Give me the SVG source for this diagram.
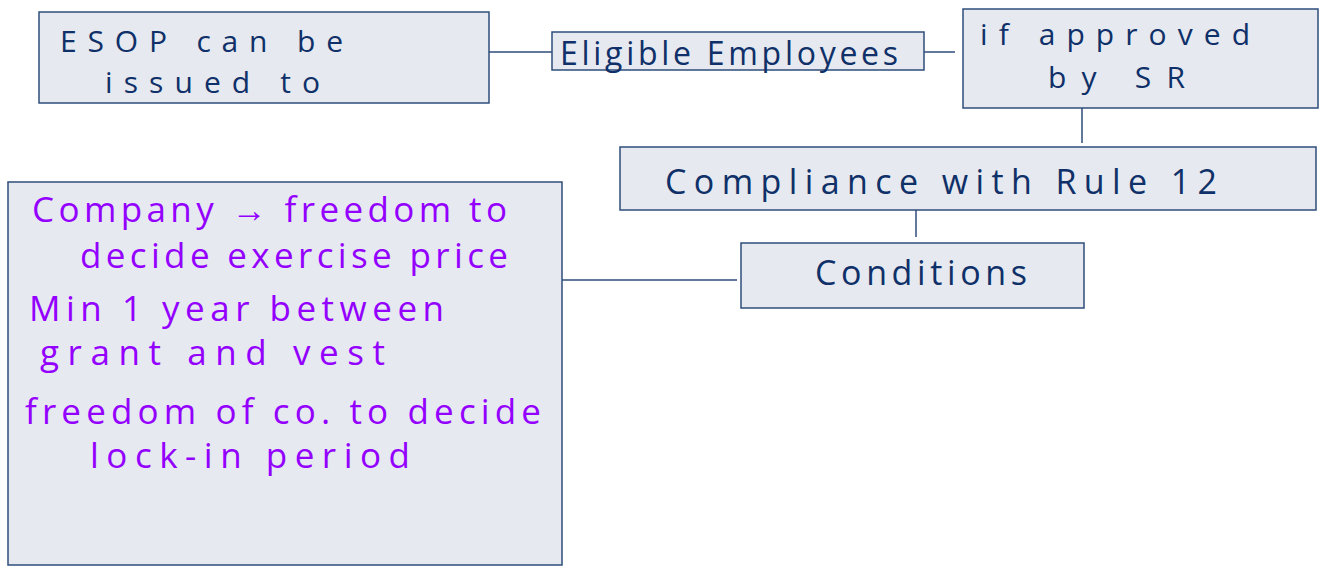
<svg xmlns="http://www.w3.org/2000/svg" width="1327" height="574" viewBox="0 0 1327 574">
<style>
.box{fill:#e6e9ef;stroke:#2e4d7b;stroke-width:1.5}
.ln{stroke:#2e4d7b;stroke-width:1.5;fill:none}
.t{font-family:"Open Sans","Liberation Sans",sans-serif;font-size:34px;fill:#0f3068}
.p{font-family:"Open Sans","Liberation Sans",sans-serif;font-size:35px;fill:#9400ff}
.s{font-size:30px}
</style>
<rect width="1327" height="574" fill="#ffffff"/>
<g id="connectors">
<line class="ln" x1="489" y1="52" x2="552" y2="52"/>
<line class="ln" x1="924" y1="52" x2="955" y2="52"/>
<line class="ln" x1="1082" y1="108" x2="1082" y2="143"/>
<line class="ln" x1="916" y1="210" x2="916" y2="237"/>
<line class="ln" x1="562" y1="280" x2="737" y2="280"/>
</g>
<g id="esop">
<rect class="box" x="39" y="12" width="450" height="91"/>
<text class="t s" x="60" y="52" textLength="283" lengthAdjust="spacing">ESOP can be</text>
<text class="t s" x="105" y="93" textLength="215" lengthAdjust="spacing">issued to</text>
</g>
<g id="eligible">
<rect class="box" x="552" y="32" width="372" height="38"/>
<text class="t" x="560" y="65" textLength="338" lengthAdjust="spacing" style="font-size:32px">Eligible Employees</text>
</g>
<g id="approved">
<rect class="box" x="963" y="9" width="355" height="99"/>
<text class="t s" x="980" y="45" textLength="270" lengthAdjust="spacing">if approved</text>
<text class="t s" x="1048" y="88" textLength="137" lengthAdjust="spacing">by SR</text>
</g>
<g id="compliance">
<rect class="box" x="620" y="147" width="696" height="63"/>
<text class="t" x="665" y="194" textLength="552" lengthAdjust="spacing">Compliance with Rule 12</text>
</g>
<g id="conditions">
<rect class="box" x="741" y="243" width="343" height="65"/>
<text class="t" x="815" y="285" textLength="212" lengthAdjust="spacing">Conditions</text>
</g>
<g id="details">
<rect class="box" x="8" y="182" width="554" height="383"/>
<text class="p" x="32" y="222" textLength="475" lengthAdjust="spacing">Company → freedom to</text>
<text class="p" x="80" y="268" textLength="428" lengthAdjust="spacing">decide exercise price</text>
<text class="p" x="29" y="321" textLength="415" lengthAdjust="spacing">Min 1 year between</text>
<text class="p" x="40" y="365" textLength="345" lengthAdjust="spacing">grant and vest</text>
<text class="p" x="25" y="424" textLength="516" lengthAdjust="spacing">freedom of co. to decide</text>
<text class="p" x="90" y="468" textLength="320" lengthAdjust="spacing">lock-in period</text>
</g>
</svg>
